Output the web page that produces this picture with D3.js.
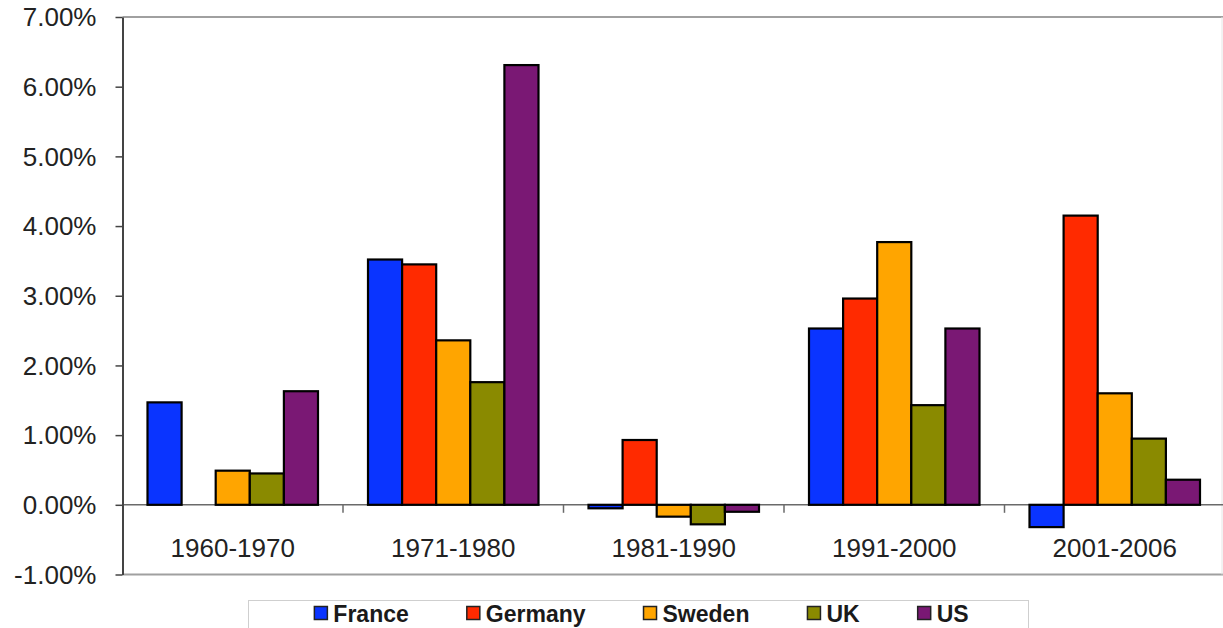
<!DOCTYPE html>
<html>
<head>
<meta charset="utf-8">
<script src="https://cdn.jsdelivr.net/npm/d3@7"></script>
<style>
  body { margin: 0; background: #fff; }
  svg { display: block; font-family: "Liberation Sans", Arial, sans-serif; }
  .axis text { fill: #222; font-size: 26px; }
</style>
</head>
<body>
<svg id="chart" width="1223" height="628"></svg>
<script>
var periods = ['1960-1970', '1971-1980', '1981-1990', '1991-2000', '2001-2006'];
var countries = ['France', 'Germany', 'Sweden', 'UK', 'US'];
var colors = ['#0a34ff', '#ff2a00', '#ffa500', '#8a8a00', '#7a1874'];
var france = [0.0147, 0.0352, -0.0005, 0.0253, -0.0032];
var germany = [0, 0.0345, 0.0093, 0.0296, 0.0415];
var sweden = [0.0049, 0.0236, -0.0017, 0.0377, 0.0160];
var uk = [0.0045, 0.0176, -0.0028, 0.0143, 0.0095];
var us = [0.0163, 0.0631, -0.0010, 0.0253, 0.0036];
var yTicks = [-0.01, 0, 0.01, 0.02, 0.03, 0.04, 0.05, 0.06, 0.07];

var series = [france, germany, sweden, uk, us];
var svg = d3.select('#chart');
var borders = { left: 122.5, right: 1225, top: 17, bottom: 574.5 };

var xScale = d3.scaleBand()
  .domain(periods)
  .range([borders.left, borders.right]);

var xInner = d3.scaleBand()
  .domain(countries)
  .range([25, 195.5]);

var yScale = d3.scaleLinear()
  .domain([-0.01, 0.07])
  .range([borders.bottom, borders.top]);

var fmt = d3.formatLocale({ decimal: '.', thousands: ',', grouping: [3], currency: ['', ''], minus: '-' }).format('.2%');

// frame lines
svg.append('line')
  .attr('x1', borders.left).attr('x2', borders.right)
  .attr('y1', borders.top).attr('y2', borders.top)
  .attr('stroke', '#a0a0a0').attr('stroke-width', 2);

svg.append('line')
  .attr('x1', borders.left).attr('x2', borders.right)
  .attr('y1', borders.bottom).attr('y2', borders.bottom)
  .attr('stroke', '#a0a0a0').attr('stroke-width', 2);

svg.append('line')
  .attr('x1', 1222).attr('x2', 1222)
  .attr('y1', borders.top).attr('y2', borders.bottom)
  .attr('stroke', '#e6e6e6').attr('stroke-width', 1);

// zero line + category ticks
var y0 = yScale(0);
svg.append('line')
  .attr('x1', borders.left).attr('x2', borders.right)
  .attr('y1', y0).attr('y2', y0)
  .attr('stroke', '#6a6a6a').attr('stroke-width', 1.5);

svg.selectAll('.cat-tick')
  .data(periods.slice(1))
  .enter()
  .append('line')
  .attr('class', 'cat-tick')
  .attr('x1', function (d) { return xScale(d); })
  .attr('x2', function (d) { return xScale(d); })
  .attr('y1', y0).attr('y2', y0 + 8)
  .attr('stroke', '#6a6a6a').attr('stroke-width', 1.5);

// bars
var groups = svg.selectAll('.grp')
  .data(periods)
  .enter()
  .append('g')
  .attr('class', 'grp')
  .attr('transform', function (d) { return 'translate(' + xScale(d) + ',0)'; });

groups.selectAll('rect')
  .data(function (d, i) {
    return countries.map(function (c, k) {
      return { country: c, value: series[k][i], color: colors[k] };
    });
  })
  .enter()
  .filter(function (d) { return d.value !== 0; })
  .append('rect')
  .attr('x', function (d) { return xInner(d.country); })
  .attr('width', xInner.bandwidth())
  .attr('y', function (d) { return yScale(Math.max(0, d.value)); })
  .attr('height', function (d) { return Math.abs(yScale(d.value) - yScale(0)); })
  .attr('fill', function (d) { return d.color; })
  .attr('stroke', '#000')
  .attr('stroke-width', 2.2);

// category labels
svg.selectAll('.cat-label')
  .data(periods)
  .enter()
  .append('text')
  .attr('class', 'cat-label')
  .attr('x', function (d) { return xScale(d) + xScale.bandwidth() / 2; })
  .attr('y', 557)
  .attr('text-anchor', 'middle')
  .attr('fill', '#222')
  .style('font-size', '26px')
  .text(function (d) { return d; });

// y axis
var yAxis = d3.axisLeft(yScale)
  .tickValues(yTicks)
  .tickFormat(fmt)
  .tickSizeInner(7)
  .tickSizeOuter(0)
  .tickPadding(19);

var gy = svg.append('g')
  .attr('class', 'axis')
  .attr('transform', 'translate(' + borders.left + ',0)')
  .call(yAxis);

gy.select('.domain').attr('stroke', '#444').attr('stroke-width', 2);
gy.selectAll('.tick line').attr('stroke', '#444').attr('stroke-width', 1.5);
gy.selectAll('.tick text').attr('dy', '0.34em');

// legend
var legend = svg.append('g');
legend.append('rect')
  .attr('x', 248.5).attr('y', 600.5)
  .attr('width', 780).attr('height', 40)
  .attr('fill', '#fff')
  .attr('stroke', '#cfcfcf');

var items = legend.selectAll('.item')
  .data(countries)
  .enter()
  .append('g')
  .attr('class', 'item');

items.append('rect')
  .attr('width', 13).attr('height', 13)
  .attr('y', 606.5)
  .attr('fill', function (d, i) { return colors[i]; })
  .attr('stroke', '#222')
  .attr('stroke-width', 1.5);

items.append('text')
  .attr('x', 19)
  .attr('y', 622)
  .attr('fill', '#1a1a1a')
  .style('font-size', '23px')
  .style('font-weight', 'bold')
  .text(function (d) { return d; });

var gap = 58;
var widths = [];
items.each(function () {
  widths.push(19 + d3.select(this).select('text').node().getComputedTextLength());
});
var total = d3.sum(widths) + gap * (widths.length - 1);
var xPos = 248.5 + 780 / 2 - total / 2 + 3;
items.each(function (d, i) {
  d3.select(this).attr('transform', 'translate(' + xPos + ',0)');
  xPos += widths[i] + gap;
});
</script>
</body>
</html>
